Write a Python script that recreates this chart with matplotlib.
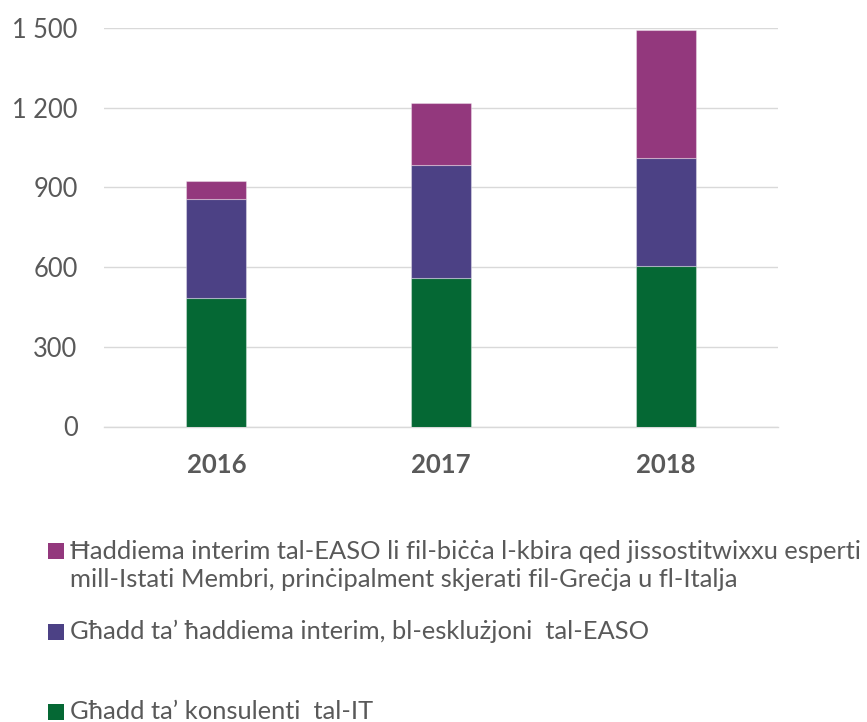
import matplotlib
matplotlib.use("Agg")
import matplotlib.pyplot as plt
from matplotlib.patches import Rectangle
import numpy as np

years = ["2016", "2017", "2018"]
it_consultants = [484, 558, 603]
interim_excl_easo = [372, 427, 407]
interim_easo = [68, 232, 482]

legend_lines = [
    ["Ħaddiema interim tal-EASO li fil-biċċa l-kbira qed jissostitwixxu esperti",
     "mill-Istati Membri, prinċipalment skjerati fil-Greċja u fl-Italja"],
    ["Għadd ta’ ħaddiema interim, bl-esklużjoni  tal-EASO"],
    ["Għadd ta’ konsulenti  tal-IT"],
]
yticks = [0, 300, 600, 900, 1200, 1500]
ytick_labels = ["0", "300", "600", "900", "1 200", "1 500"]

c_green = "#056834"
c_purple = "#4C4185"
c_magenta = "#93387D"
grey_text = "#595959"

plt.rcParams['font.family'] = ['Lato', 'DejaVu Sans']
legend_family = ['Lato', 'DejaVu Sans']

W, H = 867, 722
fig = plt.figure(figsize=(W / 100, H / 100), dpi=100)
ax = fig.add_axes([104 / W, 1 - 426.5 / H, (778 - 104) / W, (426.5 - 28) / H])

x = np.arange(len(years))
bw = 0.267
ec = (1, 1, 1, 0.35)
ax.bar(x, it_consultants, bw, color=c_green, edgecolor=ec, linewidth=0.8, zorder=3)
b1 = np.array(it_consultants)
ax.bar(x, interim_excl_easo, bw, bottom=b1, color=c_purple, edgecolor=ec, linewidth=0.8, zorder=3)
b2 = b1 + np.array(interim_excl_easo)
ax.bar(x, interim_easo, bw, bottom=b2, color=c_magenta, edgecolor=ec, linewidth=0.8, zorder=3)

ax.set_xlim(-0.5, 2.5)
ax.set_ylim(0, 1500)
ax.set_yticks(yticks)
ax.set_yticklabels(ytick_labels)
ax.set_xticks(x)
ax.set_xticklabels(years, fontweight="bold")
ax.grid(axis="y", color="#D9D9D9", linewidth=1.0, zorder=0)
for s in ["top", "right", "left"]:
    ax.spines[s].set_visible(False)
ax.spines["bottom"].set_color("#D9D9D9")
ax.spines["bottom"].set_linewidth(1.0)
ax.tick_params(axis="y", length=0, pad=19, labelsize=18.4, colors=grey_text)
ax.tick_params(axis="x", length=0, pad=19, labelsize=18.5, colors=grey_text)

# Legend (manual layout)
leg_colors = [c_magenta, c_purple, c_green]
sq_centers = [551, 631.7, 712]
baselines = [[559.3, 587.3], [639], [719]]

# fit font size so the first legend line spans ~795 px as in the reference
fs = 16.0
fig.canvas.draw()
r = fig.canvas.get_renderer()
tmp = fig.text(0, 0, legend_lines[0][0], fontsize=fs, family=legend_family)
w = tmp.get_window_extent(r).width
tmp.remove()
fs = fs * 792 / w

for col, yc, lines, bls in zip(leg_colors, sq_centers, legend_lines, baselines):
    fig.patches.append(Rectangle(((56 - 8) / W, 1 - (yc + 8) / H), 16 / W, 16 / H,
                                 transform=fig.transFigure, facecolor=col, edgecolor="none"))
    for line, bl in zip(lines, bls):
        fig.text(70 / W, 1 - bl / H, line, fontsize=fs, color=grey_text,
                 va="baseline", ha="left", family=legend_family)

fig.savefig("out.png", dpi=100)
